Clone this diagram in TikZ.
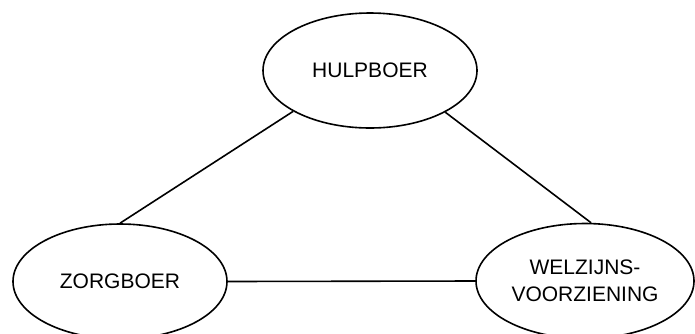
\documentclass[tikz,border=0pt]{standalone}
\usepackage{fontspec}
\setmainfont{Liberation Sans}
\usetikzlibrary{shapes.geometric}
\begin{document}
\begin{tikzpicture}[x=1pt,y=-1pt,
  oval/.style={ellipse,draw,line width=1.6pt,inner sep=0pt,minimum width=214pt,minimum height=115pt,align=center,font=\fontsize{21}{26.7}\selectfont},
  link/.style={line width=1.6pt}]
\useasboundingbox (0,0) rectangle (695,333);
\node[oval] (h) at (370,70.5) {HULPBOER};
\node[oval] (z) at (120,281.5) {ZORGBOER};
\node[oval,minimum width=218pt] (w) at (585,281) {WELZIJNS-\\VOORZIENING};
\draw[link] (h.208) -- (z.north);
\draw[link] (h.331.6) -- (w.84);
\draw[link] (z.east) -- (w.west);
\end{tikzpicture}
\end{document}
